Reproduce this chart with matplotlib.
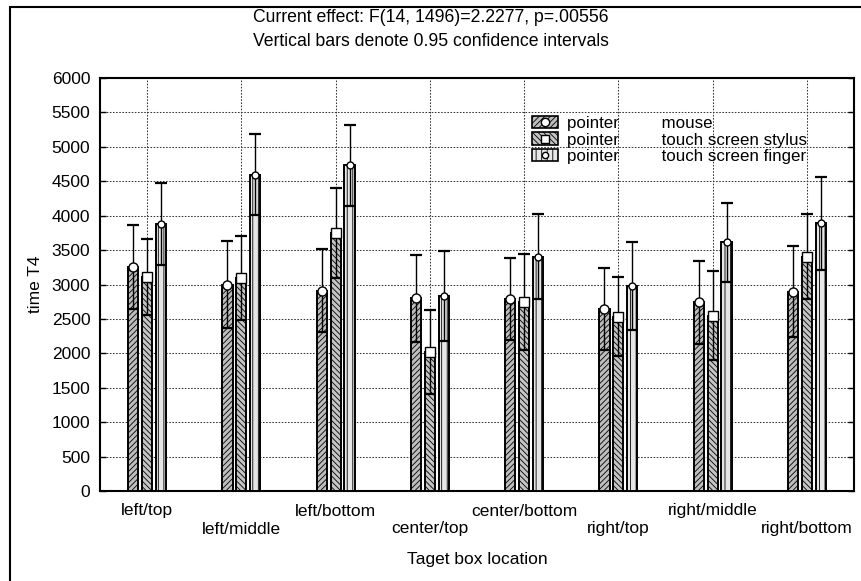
import matplotlib
matplotlib.use("Agg")
import matplotlib.pyplot as plt
import numpy as np
from matplotlib.patches import Rectangle, Patch
from matplotlib.lines import Line2D
from matplotlib.transforms import ScaledTranslation

plt.rcParams['font.family'] = ['Liberation Sans', 'DejaVu Sans']
plt.rcParams['hatch.linewidth'] = 0.6

categories = ['left/top', 'left/middle', 'left/bottom', 'center/top',
              'center/bottom', 'right/top', 'right/middle', 'right/bottom']
series_names = ['mouse', 'touch screen stylus', 'touch screen finger']
mouse = [3250, 3000, 2910, 2800, 2790, 2645, 2740, 2895]
mouse_ci = [610, 625, 600, 630, 600, 600, 600, 660]
stylus = [3110, 3095, 3745, 2025, 2750, 2535, 2545, 3405]
stylus_ci = [555, 615, 655, 610, 700, 575, 645, 615]
finger = [3880, 4595, 4730, 2835, 3405, 2980, 3615, 3890]
finger_ci = [595, 590, 590, 655, 615, 640, 575, 675]
yticks = [0, 500, 1000, 1500, 2000, 2500, 3000, 3500, 4000, 4500, 5000, 5500, 6000]

title1 = 'Current effect: F(14, 1496)=2.2277, p=.00556'
title2 = 'Vertical bars denote 0.95 confidence intervals'

W, H = 862, 581
fig = plt.figure(figsize=(W / 100, H / 100), dpi=100)
ax = fig.add_axes([100 / W, 1 - 491 / H, 754 / W, 413 / H])

x = np.arange(len(categories))
offs = [-0.148, 0.0, 0.148]
bw = 0.108
styles = [
    dict(face='#bdbdbd', hatch='//////', marker='o', ms=6.5),
    dict(face='#c4c4c4', hatch='\\\\\\\\\\\\', marker='s', ms=6.5),
    dict(face='#e6e6e6', hatch='|||', marker='o', ms=5),
]
data = [(mouse, mouse_ci), (stylus, stylus_ci), (finger, finger_ci)]

handles = []
for k, ((vals, ci), st, off) in enumerate(zip(data, styles, offs)):
    ax.bar(x + off, vals, width=bw, color=st['face'], edgecolor='black',
           linewidth=1.4, hatch=st['hatch'], zorder=3)
    ax.errorbar(x + off, vals, yerr=ci, fmt='none', ecolor='black',
                elinewidth=1.0, capsize=4, capthick=1.6, zorder=4)
    ax.plot(x + off, vals, linestyle='none', marker=st['marker'],
            markersize=st['ms'], markerfacecolor='white',
            markeredgecolor='black', markeredgewidth=1.0, zorder=5)
    p = Patch(facecolor=st['face'], edgecolor='black', hatch=st['hatch'], linewidth=1.2)
    m = Line2D([], [], linestyle='none', marker=st['marker'], markersize=st['ms'] - 0.5,
               markerfacecolor='white', markeredgecolor='black', markeredgewidth=1.0)
    handles.append((p, m))

labels = ['pointer' + ' ' * 9 + n for n in series_names]
ax.legend(handles, labels, loc='upper left', bbox_to_anchor=(0.573, 0.908),
          frameon=False, fontsize=12.2, borderpad=0, borderaxespad=0,
          handlelength=1.55, handleheight=0.75, handletextpad=0.5,
          labelspacing=0.08)

ax.set_xlim(-0.5, len(categories) - 0.5)
ax.set_ylim(0, 6000)
ax.set_yticks(yticks)
ax.set_yticklabels([str(v) for v in yticks], fontsize=12.5)
ax.set_xticks(x)
ax.set_xticklabels(categories, fontsize=12.5)
ax.tick_params(axis='x', length=0, pad=9)
ax.tick_params(axis='y', direction='in', length=4, width=1.0, pad=7,
               right=True, left=True)
for i, lab in enumerate(ax.get_xticklabels()):
    if i % 2 == 1:
        lab.set_transform(lab.get_transform() + ScaledTranslation(0, -0.18, fig.dpi_scale_trans))

ax.grid(True, color='#333333', linestyle=(0, (1.5, 1.5)), linewidth=0.75, zorder=0)
ax.set_axisbelow(True)
for s in ax.spines.values():
    s.set_linewidth(1.5)
    s.set_color('black')

ax.set_xlabel('Taget box location', fontsize=12.5)
ax.xaxis.set_label_coords(0.5, -0.148)
ax.set_ylabel('time T4', fontsize=12.5)
ax.yaxis.set_label_coords(-0.076, 0.5)

fig.text(0.5, 1 - 22 / H, title1, ha='center', va='baseline', fontsize=12.7)
fig.text(0.5, 1 - 46.5 / H, title2, ha='center', va='baseline', fontsize=12.7)

frame = Rectangle((10 / W, -0.05), 1.2, 1 - 7 / H + 0.05, transform=fig.transFigure,
                  fill=False, edgecolor='black', linewidth=1.5, clip_on=False)
fig.patches.append(frame)

fig.savefig('out.png', dpi=100)
